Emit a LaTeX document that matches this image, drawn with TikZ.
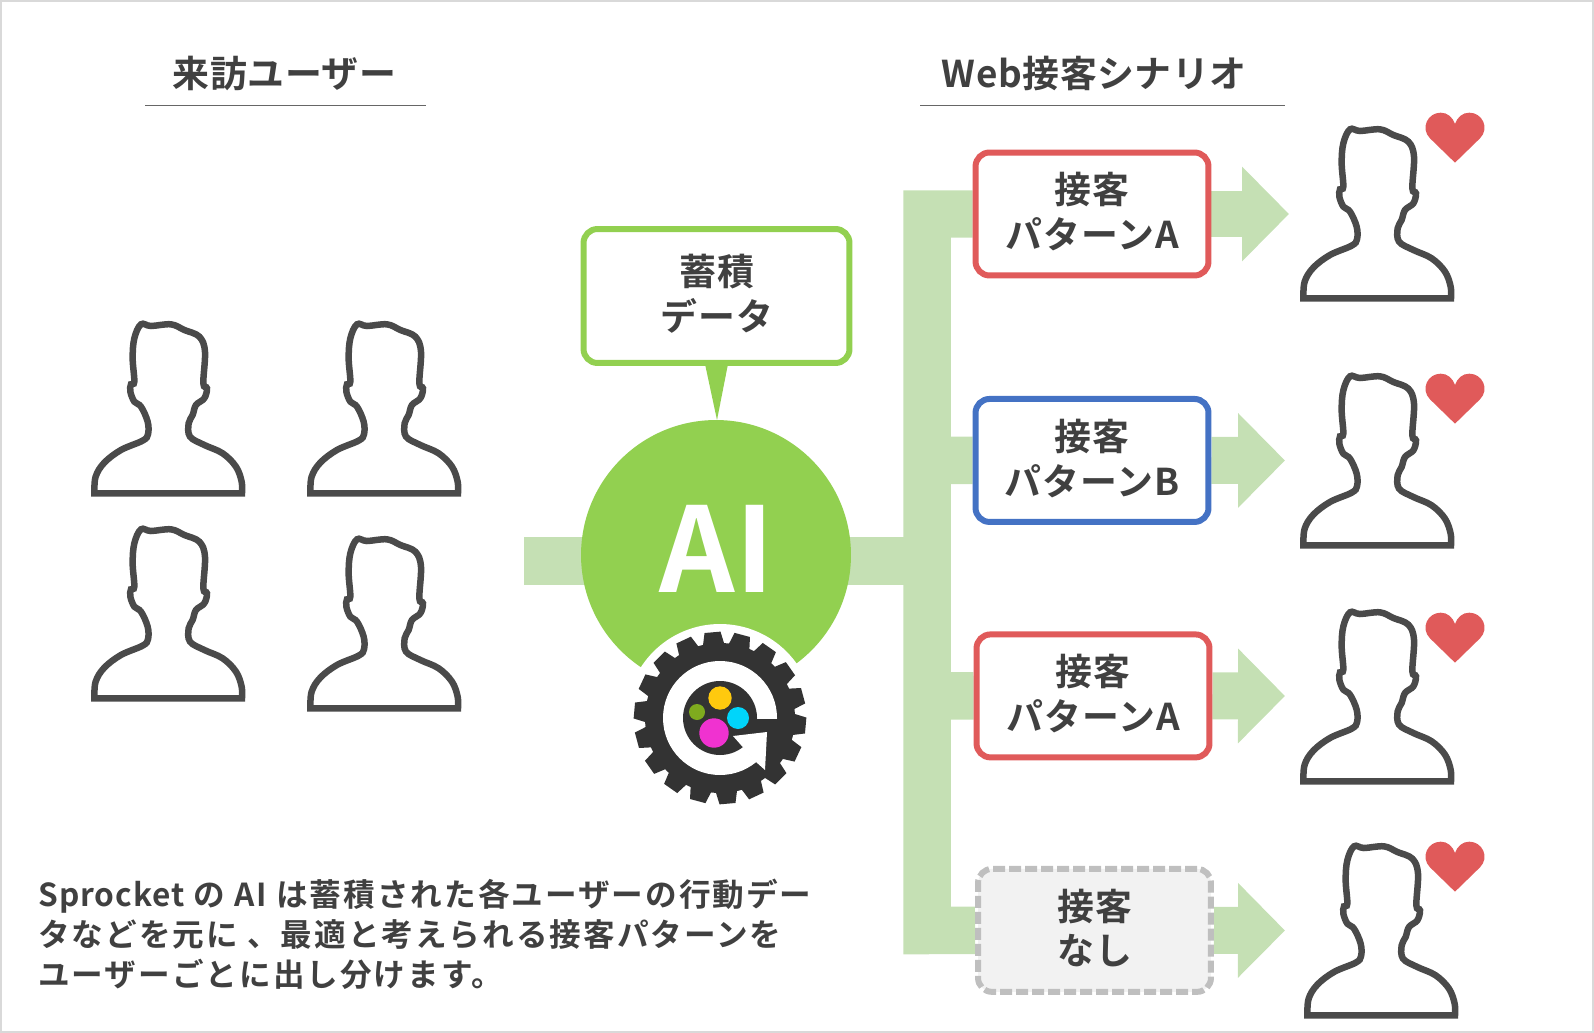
\documentclass[tikz,border=0pt]{standalone}
\usepackage{fontspec}
\setmainfont[BoldFont={Noto Sans CJK JP Bold}]{Noto Sans CJK JP}
\usepackage{tikz}
\usetikzlibrary{positioning, arrows.meta, backgrounds}

\definecolor{inkgrey}{HTML}{404040}
\definecolor{barblue}{HTML}{4472C4}
\definecolor{barred}{HTML}{E05A5A}
\definecolor{aigreen}{HTML}{92D050}
\definecolor{flowgreen}{HTML}{C5E0B4}
\definecolor{gearblack}{HTML}{333333}
\newcommand{\lastline}{\rule[-4pt]{0pt}{4pt}}

\tikzset{
    pics/visitor/.style={code={
        \draw[line width=0.13cm, color=inkgrey!95, scale=0.3333]
            plot[smooth, tension=0.6] coordinates {(70,595) (74,545) (100,503) (150,465) (215,437) (231,418) (230,380)
            (210,335) (190,320) (178,290) (180,268) (190,260) (185,190) (190,130) (210,88) (240,93) (300,88)
            (340,105) (385,125) (402,170) (397,265) (408,280) (400,310) (375,330) (365,360) (353,385) (357,425)
            (400,450) (455,475) (495,515) (512,560) (513,595)} -- cycle;
    }},
    pics/heart/.style={code={
        \fill[barred, scale=0.3333] (525,188) -- (450,115) .. controls (420,85) and (443,38) .. (482,38)
            .. controls (503,38) and (518,52) .. (525,72) .. controls (532,52) and (547,38) .. (568,38)
            .. controls (607,38) and (630,85) .. (600,115) -- cycle;
    }},
    patternbox/.style={draw, rectangle, rounded corners=0.28cm, line width=0.12cm, minimum width=4.66cm,
        minimum height=2.46cm, inner sep=0pt, fill=white, align=center, text=inkgrey,
        font=\fontsize{21}{25.5}\selectfont\bfseries\addfontfeatures{LetterSpace=3}},
    headtitle/.style={text=inkgrey, inner sep=0pt, font=\fontsize{21}{25}\selectfont\bfseries\addfontfeatures{LetterSpace=1.5}},
    headrule/.style={draw=black!60, line width=0.02cm},
    flowbar/.style={draw=flowgreen, line width=0.95cm, line join=miter},
    flowarrow/.style={draw=flowgreen, line width=0.94cm, -{Triangle[length=0.94cm,width=1.84cm,color=flowgreen]}}
}

\begin{document}
\begin{tikzpicture}[x=0.02cm, y=-0.02cm, node distance=2cm, on grid]
    \useasboundingbox (0,0) rectangle (1594,1033);
    \draw[color=black!15, line width=0.04cm] (1,1) rectangle (1593,1032);

    % Define headings
    \node[headtitle] (visitors) at (284.5,73.5) {来訪ユーザー};
    \node[headtitle] (scenario) [right=16.2cm of visitors] {Web接客シナリオ};
    \draw[headrule] (145,106) -- (426,106);
    \draw[headrule] (920,106) -- (1285,106);

    % Define visitors
    \pic at (71,295) {visitor};
    \pic at (287,295) {visitor};
    \pic at (71,500) {visitor};
    \pic at (287,510) {visitor};

    % Define AI and data
    \node[circle, fill=aigreen, minimum size=5.4cm, inner sep=0pt] (ai) at (716,555) {};
    \node[text=white, inner sep=0pt, font=\fontsize{67}{67}\selectfont\bfseries] (ailabel) at (717,549) {AI};
    \node[patternbox, draw=aigreen, minimum width=5.32cm, minimum height=2.68cm] (stock) at (716.5,296) {蓄積\\データ\lastline};
    \coordinate (tailleft) at (705,364);
    \coordinate (tailright) at (728,364);
    \coordinate (tailtip) at (717,420);
    \fill[aigreen] (tailleft) -- (tailtip) -- (tailright) -- cycle;

    % Define gear
    \fill[white] (720,718) circle (94);
    \begin{scope}[shift={(720,718)}]
        \fill[gearblack] (0,0) circle (75);
        \foreach \a in {5,25,...,345}
            \fill[gearblack, rotate=\a] (-11,-72) -- (-8,-86) -- (8,-86) -- (11,-72) -- cycle;
        \fill[white] (0,0) circle (57);
        \fill[gearblack] (0,0) circle (37);
        \fill[gearblack] (0,1) -- (62,1) -- (62,30) -- (45,52) -- (13,18) -- cycle;
        \fill[white] (13,18) -- (47,14) -- (45,52) -- (36,44) -- cycle;
        \fill[color={rgb,255:red,255;green,201;blue,14}] (0,-20) circle (11.7);
        \fill[color={rgb,255:red,127;green,171;blue,30}] (-23,-6) circle (8);
        \fill[color={rgb,255:red,0;green,213;blue,250}] (18,0) circle (11);
        \fill[color={rgb,255:red,240;green,50;blue,208}] (-6,15) circle (14.7);
    \end{scope}

    % Define patterns
    \node[patternbox, draw=barred] (boxa) at (1092,214) {接客\\パターンA\lastline};
    \node[patternbox, draw=barblue] (boxb) [below=4.93cm of boxa] {接客\\パターンB\lastline};
    \node[patternbox, draw=barred] (boxc) [below=9.64cm of boxa, xshift=0.02cm] {接客\\パターンA\lastline};
    \node[patternbox, draw=black!25, fill=black!5, dash pattern=on 0.24cm off 0.08cm] (boxd) [below=14.33cm of boxa, xshift=0.05cm] {接客\\なし\lastline};

    % Define reached users
    \pic at (1280,100) {visitor};
    \pic at (1280,347) {visitor};
    \pic at (1280,583) {visitor};
    \pic at (1284,817) {visitor};
    \pic at (1280,100) {heart};
    \pic at (1280,361) {heart};
    \pic at (1280,600) {heart};
    \pic at (1280,829) {heart};

    % Define flows
    \coordinate (source) at (524,561);
    \coordinate (trunkmid) at (927,561);
    \coordinate (trunka) at (927,214);
    \coordinate (trunkb) at (927,460.5);
    \coordinate (trunkc) at (927,696);
    \coordinate (trunkd) at (927,930.5);
    \coordinate (tipa) at (1289,214);
    \coordinate (tipb) at (1285,460.5);
    \coordinate (tipc) at (1285,696);
    \coordinate (tipd) at (1285,930.5);
    \begin{pgfonlayer}{background}
        \draw[flowbar] (source) -- (trunkmid);
        \draw[flowbar] (boxa.west) -- (trunka) -- (trunkd) -- (boxd.west);
        \draw[flowbar] (trunkb) -- (boxb.west);
        \draw[flowbar] (trunkc) -- (boxc.west);
        \draw[flowarrow] (boxa.east) -- (tipa);
        \draw[flowarrow] (boxb.east) -- (tipb);
        \draw[flowarrow] (boxc.east) -- (tipc);
        \draw[flowarrow] (boxd.east) -- (tipd);
    \end{pgfonlayer}

    % Define caption
    \node[anchor=west, align=left, inner sep=0pt, text=inkgrey,
        font=\fontsize{18}{22.8}\selectfont\bfseries\addfontfeatures{LetterSpace=6.3}] (caption) at (38,934)
        {{\addfontfeatures{LetterSpace=3}Sprocket} の AI は蓄積された各ユーザーの行動デー\\タなどを元に 、最適と考えられる接客パターンを\\ユーザーごとに出し分けます。};
\end{tikzpicture}
\end{document}
